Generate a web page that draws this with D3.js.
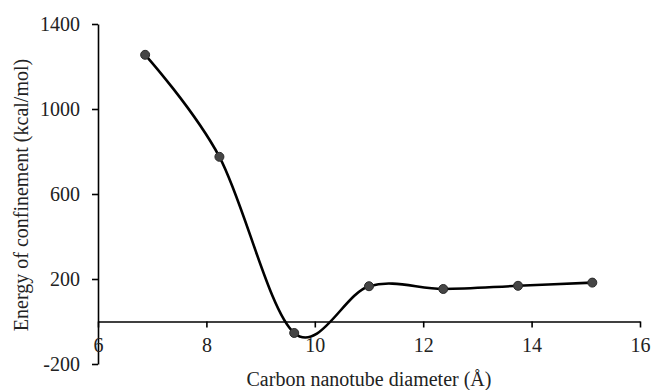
<!DOCTYPE html>
<html>
<head>
<meta charset="utf-8">
<script src="https://cdn.jsdelivr.net/npm/d3@7"></script>
<style>
  body { margin: 0; background: #fff; }
  text { font-family: "Liberation Serif", "Times New Roman", serif; }
</style>
</head>
<body>
<div id="chart"></div>
<script>
// values
var diameters = [6.87, 8.24, 9.62, 11.0, 12.37, 13.75, 15.12];
var energies = [1255, 775, -54, 166, 153, 168, 183];
var xTicks = [6, 8, 10, 12, 14, 16];
var yTicks = [-200, 200, 600, 1000, 1400];

var W = 653, H = 390;
var margin = {top: 24, right: 13, bottom: 26, left: 98},
    width = W - margin.left - margin.right,
    height = H - margin.top - margin.bottom;

var svg = d3.select("#chart")
  .append("svg")
  .attr("width", W)
  .attr("height", H)
  .append("g")
  .attr("transform", "translate(" + margin.left + "," + margin.top + ")");

var x = d3.scaleLinear().domain([6, 16]).range([0, width]);
var y = d3.scaleLinear().domain([-200, 1400]).range([height, 0]);

var plain = function(d) { return String(d); };

// y axis on the left edge
var yAxis = svg.append("g")
  .call(d3.axisLeft(y).tickValues(yTicks).tickFormat(plain).tickSize(6).tickPadding(12).tickSizeOuter(0));
yAxis.select(".domain").attr("stroke", "#000").attr("stroke-width", 1.6);
yAxis.selectAll(".tick line").attr("stroke", "#000").attr("stroke-width", 1.6);
yAxis.selectAll(".tick text")
  .attr("font-size", 20)
  .attr("fill", "#222")
  .style("font-family", "Liberation Serif, serif");

// x axis crosses at zero
var xAxis = svg.append("g")
  .attr("transform", "translate(0," + y(0) + ")")
  .call(d3.axisBottom(x).tickValues(xTicks).tickFormat(plain).tickSize(6).tickPadding(10).tickSizeOuter(0));
xAxis.select(".domain").attr("stroke", "#000").attr("stroke-width", 1.6);
xAxis.selectAll(".tick line").attr("stroke", "#000").attr("stroke-width", 1.6);
xAxis.selectAll(".tick text")
  .attr("font-size", 20)
  .attr("fill", "#222")
  .style("font-family", "Liberation Serif, serif");

// smoothed line
var pts = diameters.map(function(d, i) { return [d, energies[i]]; });
var line = d3.line()
  .x(function(d) { return x(d[0]); })
  .y(function(d) { return y(d[1]); })
  .curve(d3.curveCardinal.tension(0));

svg.append("path")
  .datum(pts)
  .attr("d", line)
  .attr("fill", "none")
  .attr("stroke", "#000")
  .attr("stroke-width", 2.6);

svg.selectAll(".pt")
  .data(pts)
  .enter()
  .append("circle")
  .attr("cx", function(d) { return x(d[0]); })
  .attr("cy", function(d) { return y(d[1]); })
  .attr("r", 4.5)
  .attr("fill", "#454545")
  .attr("stroke", "#2a2a2a")
  .attr("stroke-width", 1);

// axis titles
svg.append("text")
  .attr("x", width / 2)
  .attr("y", height + 22)
  .attr("text-anchor", "middle")
  .attr("font-size", 20)
  .attr("fill", "#222")
  .text("Carbon nanotube diameter (Å)");

svg.append("text")
  .attr("transform", "translate(" + (-70) + "," + (y(600) + 1) + ") rotate(-90)")
  .attr("text-anchor", "middle")
  .attr("font-size", 20)
  .attr("fill", "#222")
  .text("Energy of confinement (kcal/mol)");
</script>
</body>
</html>
